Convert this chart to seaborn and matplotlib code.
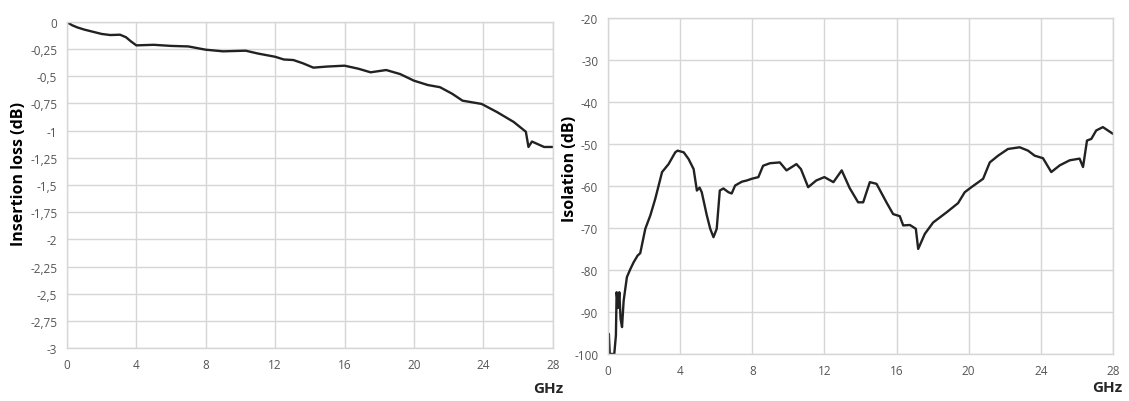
import numpy as np
import pandas as pd
import matplotlib
matplotlib.use('Agg')
import matplotlib.pyplot as plt
import matplotlib.ticker as mticker
import seaborn as sns

# --- data ---
il_ghz = [0, 0.3, 0.6, 1.0, 1.5, 2.0, 2.5, 3.06, 3.4, 3.7, 4.0, 5.0, 6.0, 7.0, 8.0, 9.0,
          10.3, 11.0, 12.0, 12.5, 13.05, 13.6, 14.2, 15.0, 16.0, 16.8, 17.5, 18.4, 19.2,
          20.0, 20.8, 21.5, 22.2, 22.8, 23.9, 24.8, 25.75, 26.45, 26.6, 26.8, 27.5, 28.0]
il_db = [0, -0.03, -0.05, -0.07, -0.09, -0.11, -0.12, -0.117, -0.14, -0.18, -0.215, -0.21,
         -0.22, -0.225, -0.255, -0.27, -0.264, -0.29, -0.32, -0.345, -0.35, -0.38, -0.42,
         -0.41, -0.402, -0.43, -0.463, -0.442, -0.479, -0.54, -0.58, -0.6, -0.66, -0.724,
         -0.754, -0.83, -0.92, -1.01, -1.15, -1.10, -1.15, -1.15]

iso_ghz = [0.05, 0.1, 0.2, 0.35, 0.44, 0.48, 0.57, 0.63, 0.7, 0.78, 0.87, 0.96, 1.05, 1.24,
           1.42, 1.64, 1.79, 2.07, 2.35, 2.62, 3.0, 3.36, 3.73, 3.86, 4.2, 4.47, 4.75, 4.93,
           5.08, 5.2, 5.48, 5.67, 5.85, 6.03, 6.2, 6.4, 6.68, 6.86, 7.05, 7.42, 7.7, 7.97,
           8.34, 8.6, 8.98, 9.53, 9.9, 10.45, 10.7, 11.1, 11.55, 12.0, 12.5, 12.96, 13.4,
           13.87, 14.15, 14.52, 14.89, 15.44, 15.81, 16.18, 16.37, 16.74, 17.07, 17.2,
           17.57, 18.03, 18.77, 19.41, 19.78, 20.15, 20.8, 21.17, 21.63, 22.18, 22.83,
           23.29, 23.66, 24.12, 24.58, 25.05, 25.6, 26.15, 26.34, 26.56, 26.8, 27.07,
           27.44, 28.0]
iso_db = [-95.2, -100, -100, -100, -95.6, -85.3, -89, -85.3, -91.7, -93.6, -87.3, -84.5,
          -81.7, -79.8, -78.2, -76.6, -76, -70.2, -67, -63.1, -56.7, -54.8, -52, -51.6,
          -52, -53.6, -56, -61.1, -60.4, -61.5, -67, -70.2, -72.2, -70.2, -61.1, -60.6,
          -61.5, -61.8, -59.9, -59, -58.7, -58.3, -57.9, -55.2, -54.6, -54.4, -56.3, -54.8,
          -56, -60.3, -58.7, -57.9, -59.1, -56.3, -60.5, -63.9, -63.9, -59.1, -59.5, -63.9,
          -66.7, -67.2, -69.4, -69.3, -70.2, -75, -71.4, -68.7, -66.3, -64.1, -61.5, -60.3,
          -58.3, -54.4, -52.8, -51.2, -50.8, -51.6, -52.8, -53.4, -56.7, -55.1, -53.9,
          -53.5, -55.5, -49.2, -48.8, -46.8, -46, -47.6]

x_ticks = [0, 4, 8, 12, 16, 20, 24, 28]
il_ticks = [0, -0.25, -0.5, -0.75, -1, -1.25, -1.5, -1.75, -2, -2.25, -2.5, -2.75, -3]
iso_ticks = [-20, -30, -40, -50, -60, -70, -80, -90, -100]

sns.set_theme(style='whitegrid')
plt.rcParams['font.family'] = ['Open Sans', 'DejaVu Sans']

fig = plt.figure(figsize=(11.29, 4.02), dpi=100)
ax1 = fig.add_axes([0.0593, 0.1318, 0.4303, 0.811])
ax2 = fig.add_axes([0.5385, 0.117, 0.4473, 0.836])

df_il = pd.DataFrame({'GHz': il_ghz, 'dB': il_db})
df_iso = pd.DataFrame({'GHz': iso_ghz, 'dB': iso_db})
sns.lineplot(data=df_il, x='GHz', y='dB', ax=ax1, color='#222222', linewidth=1.7)
sns.lineplot(data=df_iso, x='GHz', y='dB', ax=ax2, color='#222222', linewidth=1.7)

def comma_fmt(v, pos):
    # Excel-style decimal comma
    return f'{v:g}'.replace('.', ',')

for ax, ticks, lo, hi in [(ax1, il_ticks, -3, 0), (ax2, iso_ticks, -100, -20)]:
    ax.set_xlim(0, 28)
    ax.set_ylim(lo, hi)
    ax.set_xticks(x_ticks)
    ax.set_yticks(ticks)
    ax.yaxis.set_major_formatter(mticker.FuncFormatter(comma_fmt))
    ax.grid(True, color='#d6d6d6', linewidth=1.0)
    for sp in ax.spines.values():
        sp.set_color('#d6d6d6')
        sp.set_linewidth(1.0)
    ax.tick_params(axis='both', labelsize=8.5, colors='#555555', length=3, pad=4)
    ax.tick_params(axis='both', color='#c8c8c8')
    ax.set_xlabel('')

ax1.set_ylabel('Insertion loss (dB)', fontsize=11.5, fontweight='bold', color='black')
ax1.yaxis.set_label_coords(-0.082, 0.537)
ax2.set_ylabel('Isolation (dB)', fontsize=11.5, fontweight='bold', color='black')
ax2.yaxis.set_label_coords(-0.059, 0.555)

ax1.text(0.99, -0.123, 'GHz', transform=ax1.transAxes, fontsize=11,
         fontweight='bold', ha='center', va='center')
ax2.text(0.989, -0.097, 'GHz', transform=ax2.transAxes, fontsize=11,
         fontweight='bold', ha='center', va='center')

fig.savefig('out.png', dpi=100)
